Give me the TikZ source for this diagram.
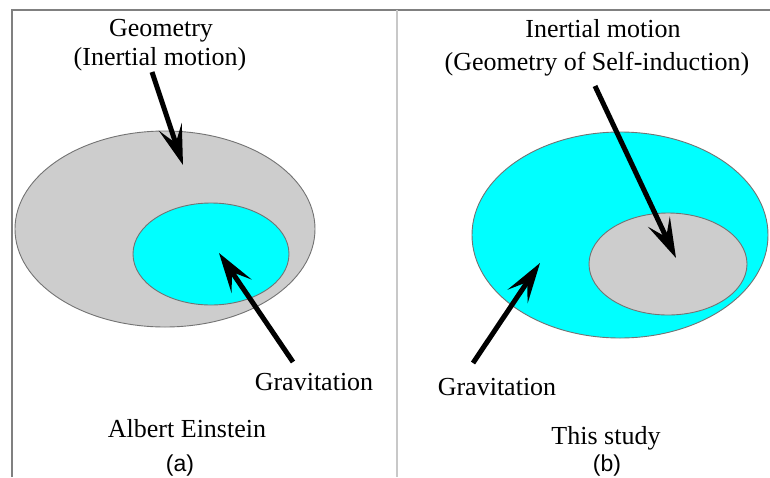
\documentclass[tikz,border=0pt]{standalone}
\usepackage{fontspec}
\setmainfont{Liberation Serif}
\newfontfamily\capfont{Liberation Sans}
\usetikzlibrary{arrows.meta}
\definecolor{egray}{RGB}{205,205,205}
\definecolor{ecyan}{RGB}{0,255,255}
\definecolor{rulegray}{RGB}{128,128,128}
\definecolor{sepgray}{RGB}{200,200,200}

\begin{document}
\begin{tikzpicture}[x=1pt,y=-1pt,font=\fontsize{26}{30}\selectfont,>={Stealth[length=40pt,width=24pt,inset=17pt]},
    blob/.style={draw=black!55,line width=.9pt},
    pointer/.style={->,line width=5pt},
    panel/.style={font=\capfont\fontsize{23}{26}\selectfont}]
    \useasboundingbox (0,0) rectangle (770,477);
    % frame
    \draw[rulegray,line width=2.4pt] (12,477)--(12,10)--(770,10);
    \draw[sepgray,line width=2.4pt] (397,10)--(397,477);
    % (a) Einstein
    \filldraw[blob,fill=egray] (165,229) ellipse [x radius=150,y radius=98];
    \filldraw[blob,fill=ecyan] (211,254) ellipse [x radius=78,y radius=51];
    \node[anchor=base] (geoA) at (161,36) {Geometry};
    \node[anchor=base] (inerA) at (160,65) {(Inertial motion)};
    \node[anchor=base] (gravA) at (314,390) {Gravitation};
    \node[anchor=base] (authA) at (187,437) {Albert Einstein};
    \node[panel,anchor=base] (capA) at (180,471) {(a)};
    \coordinate (geoTail) at (152,72); \coordinate (geoTip) at (183,165);
    \coordinate (gravTailA) at (293,362); \coordinate (gravTipA) at (219,253);
    \draw[pointer] (geoTail)--(geoTip);
    \draw[pointer] (gravTailA)--(gravTipA);
    % (b) this study
    \filldraw[blob,fill=ecyan] (620,235) ellipse [x radius=148,y radius=103];
    \filldraw[blob,fill=egray] (668,264) ellipse [x radius=79,y radius=51];
    \node[anchor=base] (inerB) at (603,37) {Inertial motion};
    \node[anchor=base] (geoB) at (597,70) {(Geometry of Self-induction)};
    \node[anchor=base] (gravB) at (497,395) {Gravitation};
    \node[anchor=base] (authB) at (606,444) {This study};
    \node[panel,anchor=base] (capB) at (607,471) {(b)};
    \coordinate (inerTail) at (595,86); \coordinate (inerTip) at (676,258);
    \coordinate (gravTailB) at (473,363); \coordinate (gravTipB) at (540,263);
    \draw[pointer] (inerTail)--(inerTip);
    \draw[pointer] (gravTailB)--(gravTipB);
\end{tikzpicture}
\end{document}
